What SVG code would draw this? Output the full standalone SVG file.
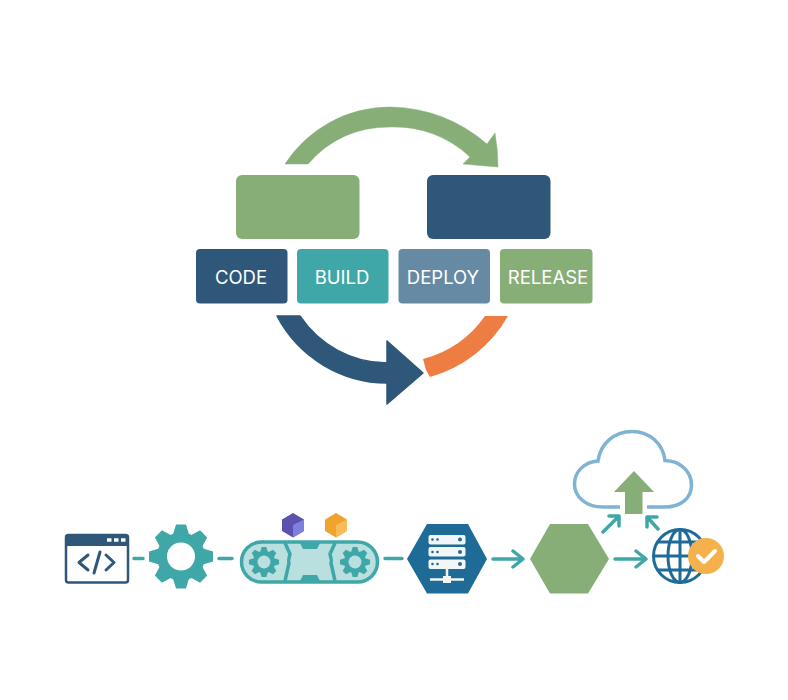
<svg xmlns="http://www.w3.org/2000/svg" xmlns:xlink="http://www.w3.org/1999/xlink" width="788" height="700" viewBox="0 0 788 700">
<style>
.lbl{font-family:"Inter","Liberation Sans",sans-serif;font-size:18.5px;fill:#fff;text-anchor:middle}
.conn{fill:none;stroke:#3fa7a8;stroke-width:3.5;stroke-linecap:round;stroke-linejoin:round}
.tooth{fill:#3fa7a8}
</style>
<defs>
<g id="teeth"><path id="t" class="tooth" d="M-8 -22L-5 -32H5L8 -22V22L5 32H-5L-8 22Z"/><use xlink:href="#t" transform="rotate(45)"/><use xlink:href="#t" transform="rotate(90)"/><use xlink:href="#t" transform="rotate(135)"/></g>
<g id="smallgear"><use xlink:href="#teeth" transform="scale(.47)"/><circle r="11" fill="#3fa7a8"/><circle r="6.500" fill="#b9e0de"/></g>
</defs>
<rect width="788" height="700" fill="#fff"/>
<g id="connectors">
<path d="M285 164A125 125 0 0 1 390 107Q445 108 487 144L495 133Q498 150 498 167L463 164L470 157A109 109 0 0 0 390 127Q340 127 308 164Z" fill="#88ae78" stroke="#88ae78" stroke-width=".5" stroke-linejoin="round"/>
<path d="M277 316H300A105 105 0 0 0 387 363V341L423 373L387 404V383A125 125 0 0 1 277 316Z" fill="#2f5779" stroke="#2f5779" stroke-width="1.500" stroke-linejoin="round"/>
<path d="M485 316H508A130 130 0 0 1 430 377L426 370L423 359A110 110 0 0 0 485 316Z" fill="#ee7d44"/>
<path class="conn" d="M134 558.500H143M219 558.500H232M385 558.500H402"/>
<path class="conn" d="M493 559H522M513 551L523 559L513 567M615 559H645M636 551L646 559L636 567M603 532L618 517M609 516H619V526M658 529L647 517M647 527V517H657"/>
</g>
<g id="top-left-box"><rect x="236" y="175" width="123.500" height="64" rx="6" fill="#88ae78"/></g>
<g id="top-right-box"><rect x="427" y="175" width="123.500" height="64" rx="6" fill="#2f5779"/></g>
<g id="code"><rect x="196" y="249" width="91.500" height="54.500" rx="4" fill="#2f5779"/><text class="lbl" x="241" y="283.500">CODE</text></g>
<g id="build"><rect x="297" y="249" width="91.500" height="54.500" rx="4" fill="#3fa7a8"/><text class="lbl" x="342" y="283.500">BUILD</text></g>
<g id="deploy"><rect x="398.500" y="249" width="91.500" height="54.500" rx="4" fill="#668aa3"/><text class="lbl" x="443" y="283.500">DEPLOY</text></g>
<g id="release"><rect x="500" y="249" width="92.500" height="54.500" rx="4" fill="#88ae78"/><text class="lbl" x="548" y="283.500">RELEASE</text></g>
<g id="code-window">
<rect x="66" y="535" width="62" height="47.500" rx="2.500" fill="#fff" stroke="#2f5779" stroke-width="2.500"/>
<path d="M65 546V537Q65 534.500 67.500 534.500H126Q128.500 534.500 128.500 537V546Z" fill="#2f5779"/>
<path d="M107 540H111.500M114 540H118.500M121 540H125.500" stroke="#fff" stroke-width="3.500" fill="none"/>
<path d="M88 555L79 562.500L88 570M106 555L114 562.500L106 570M100 552L94 573" fill="none" stroke="#2f5779" stroke-width="3" stroke-linecap="round" stroke-linejoin="round"/>
</g>
<g id="gear"><g transform="translate(181 556.500)"><use xlink:href="#teeth"/><circle r="24" fill="#3fa7a8"/><circle r="14" fill="#fff"/></g></g>
<g id="conveyor">
<rect x="241.500" y="542" width="136" height="40" rx="20" fill="#b9e0de" stroke="#3fa7a8" stroke-width="3.500"/>
<path d="M285 543L290 554Q288 562 289 563L285 581M335 543L330 554Q332 562 331 563L335 581" fill="none" stroke="#3fa7a8" stroke-width="3.500"/>
<path d="M300 543L303 549H317L320 543ZM300 581L303 575H317L320 581Z" fill="#3fa7a8"/>
<use xlink:href="#smallgear" x="264" y="562"/><use xlink:href="#smallgear" x="355" y="562"/>
</g>
<g id="cube-purple"><path d="M293 513L304 519.500V531L293 537.500L282 531V519.500Z" fill="#5b52ad"/><path d="M293 525L304 519.500V531L293 537.500Z" fill="#7f7fe0"/></g>
<g id="cube-orange"><path d="M336 513L347 519.500V531L336 537.500L325 531V519.500Z" fill="#f0a32f"/><path d="M336 525L347 519.500V531L336 537.500Z" fill="#f6bc55"/></g>
<g id="server-hex">
<path d="M407 559L427 524H468L487 559L468 593.500H427Z" fill="#1f6b97"/>
<g fill="#f2f6f7"><rect x="428.500" y="535" width="37" height="9.500" rx="2"/><rect x="428.500" y="547" width="37" height="9.500" rx="2"/><rect x="428.500" y="559.500" width="37" height="9.500" rx="2"/></g>
<path d="M447 569V579M430 579.500H464" stroke="#f2f6f7" stroke-width="2.500" fill="none"/><rect x="443" y="576" width="8" height="7" fill="#f2f6f7"/>
<g fill="#1f6b97"><circle cx="432.500" cy="539.500" r="1.300"/><circle cx="437.500" cy="539.500" r="1.300"/><circle cx="460" cy="539.500" r="2"/><circle cx="432.500" cy="552" r="1.300"/><circle cx="437.500" cy="552" r="1.300"/><circle cx="460" cy="552" r="2"/><circle cx="432.500" cy="564" r="1.300"/><circle cx="437.500" cy="564" r="1.300"/><circle cx="460" cy="564" r="2"/></g>
</g>
<g id="green-hex"><path d="M530 559L550 524H588L609 559L588 593.500H550Z" fill="#88ae78"/></g>
<g id="cloud">
<path d="M620 507H603C585 507 574.500 496 574.500 484C574.500 472 584 462 598 461C600 444 614 431.500 632 431.500C650 431.500 663 444 665 460.500C680 461 691.500 471 691.500 485C691.500 498 681 507 665 507H647" fill="none" stroke="#7fb3d3" stroke-width="3.500"/>
<path d="M634 471L654 492H642.500V514H625V492H614Z" fill="#88ae78"/>
</g>
<g id="globe">
<g fill="none" stroke="#1f6b97" stroke-width="3"><circle cx="680" cy="556" r="26.500"/><ellipse cx="680" cy="556" rx="12" ry="26.500"/><path d="M680 529.500V582.500M653.500 556H706.500M658 542H702M658 570H702"/></g>
<circle cx="706" cy="556" r="18" fill="#f5b14c"/>
<path d="M698 556L704 562L715 551" fill="none" stroke="#fff" stroke-width="4" stroke-linecap="round" stroke-linejoin="round"/>
</g>
</svg>
